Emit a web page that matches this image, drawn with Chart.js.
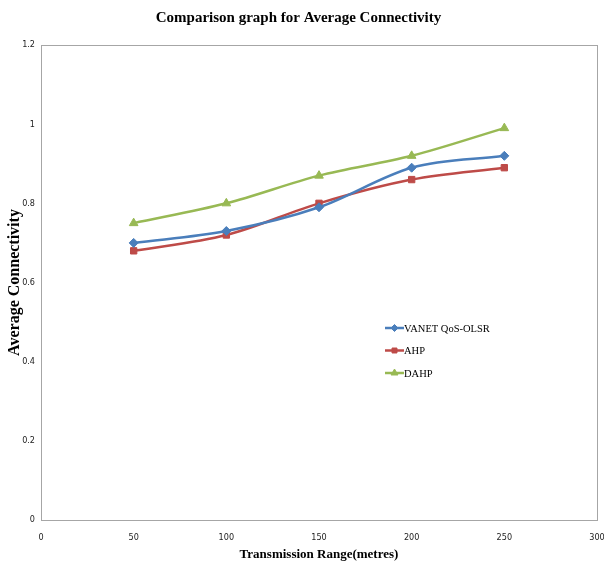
<!DOCTYPE html>
<html>
<head>
<meta charset="utf-8">
<script src="https://cdn.jsdelivr.net/npm/chart.js@4"></script>
<style>
  body { margin: 0; background: #fff; }
  #wrap { width: 604px; height: 566px; }
</style>
</head>
<body>
<div id="wrap"><canvas id="line-chart" width="604" height="566"></canvas></div>
<script>
// values
var ranges = [50, 100, 150, 200, 250];
var vanet = [0.70, 0.73, 0.79, 0.89, 0.92];
var ahp = [0.68, 0.72, 0.80, 0.86, 0.89];
var dahp = [0.75, 0.80, 0.87, 0.92, 0.99];
var seriesNames = ["VANET QoS-OLSR", "AHP", "DAHP"];

function pts(ys) {
  return ranges.map(function(x, i) { return {x: x, y: ys[i]}; });
}

// grey box round the plot and the legend inside it
var boxAndLegend = {
  id: 'boxAndLegend',
  afterDraw: function(chart) {
    var ctx = chart.ctx, a = chart.chartArea;
    ctx.save();
    ctx.strokeStyle = '#a6a6a6';
    ctx.lineWidth = 1;
    ctx.strokeRect(a.left + 0.5, a.top + 0.5, a.right - a.left, a.bottom - a.top);

    var x0 = 385, y0 = 328, gap = 22.5;
    ctx.font = '10.5px "Liberation Serif", serif';
    ctx.textBaseline = 'middle';
    chart.data.datasets.forEach(function(ds, i) {
      var y = y0 + i * gap;
      ctx.strokeStyle = ds.borderColor;
      ctx.fillStyle = ds.backgroundColor;
      ctx.lineWidth = 2.5;
      ctx.beginPath();
      ctx.moveTo(x0, y);
      ctx.lineTo(x0 + 19, y);
      ctx.stroke();
      ctx.lineWidth = 1;
      Chart.helpers.drawPoint(ctx, {
        pointStyle: ds.pointStyle, radius: ds.pointRadius - 1, borderWidth: 1
      }, x0 + 9.5, y);
      ctx.fillStyle = '#000';
      ctx.fillText(ds.label, x0 + 19, y + 1);
    });
    ctx.restore();
  }
};

new Chart(document.getElementById("line-chart"), {
  type: 'line',
  data: {
    datasets: [{
      label: seriesNames[0],
      data: pts(vanet),
      borderColor: '#4a7ebb',
      backgroundColor: '#4a7ebb',
      pointStyle: 'rectRot',
      pointRadius: 4.5
    }, {
      label: seriesNames[1],
      data: pts(ahp),
      borderColor: '#be4b48',
      backgroundColor: '#be4b48',
      pointStyle: 'rect',
      pointRadius: 4.5
    }, {
      label: seriesNames[2],
      data: pts(dahp),
      borderColor: '#98b954',
      backgroundColor: '#98b954',
      pointStyle: 'triangle',
      pointRadius: 5
    }]
  },
  options: {
    responsive: false,
    animation: false,
    layout: { padding: { right: 7 } },
    elements: {
      line: { borderWidth: 2.5, tension: 0.3, cubicInterpolationMode: 'monotone' },
      point: { borderWidth: 1 }
    },
    plugins: {
      legend: { display: false },
      tooltip: { enabled: false },
      title: {
        display: true,
        text: 'Comparison graph for Average Connectivity',
        color: '#000',
        font: { family: '"Liberation Serif", serif', size: 15, weight: 'bold', lineHeight: 1.2 },
        padding: { top: 9, bottom: 18 }
      }
    },
    scales: {
      x: {
        type: 'linear',
        min: 0, max: 300,
        grid: { display: false, drawTicks: false },
        border: { display: false },
        ticks: {
          stepSize: 50,
          padding: 12,
          color: '#222',
          font: { family: '"Liberation Sans Narrow", "DejaVu Sans Condensed", sans-serif', size: 9 }
        },
        title: {
          display: true,
          text: 'Transmission Range(metres)',
          color: '#000',
          font: { family: '"Liberation Serif", serif', size: 13, weight: 'bold' },
          padding: { top: 2 }
        },
        afterFit: function(s) { s.height = 46; s.paddingLeft = 0; s.paddingRight = 0; }
      },
      y: {
        min: 0, max: 1.2,
        grid: { display: false, drawTicks: false },
        border: { display: false },
        ticks: {
          stepSize: 0.2,
          padding: 6,
          color: '#222',
          font: { family: '"Liberation Sans Narrow", "DejaVu Sans Condensed", sans-serif', size: 9 },
          callback: function(v) { return Math.round(v * 10) / 10; }
        },
        title: {
          display: true,
          text: 'Average Connectivity',
          color: '#000',
          font: { family: '"Liberation Serif", serif', size: 16, weight: 'bold', lineHeight: 1.1 },
          padding: { top: 6 }
        },
        afterFit: function(s) { s.width = 41; s.paddingTop = 0; s.paddingBottom = 0; }
      }
    }
  },
  plugins: [boxAndLegend]
});
</script>
</body>
</html>
